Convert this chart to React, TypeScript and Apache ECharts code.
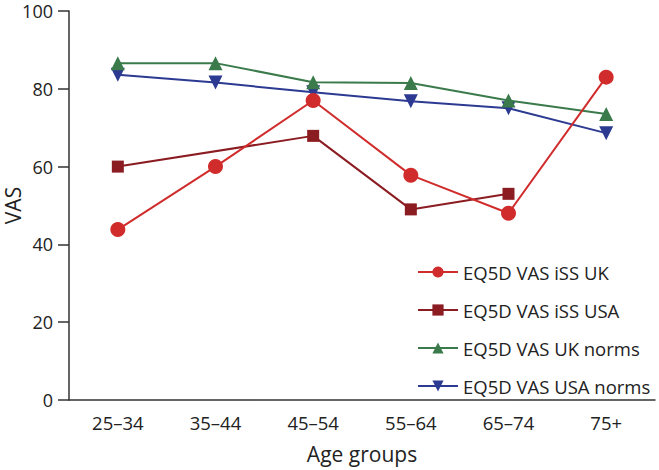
import React, { useEffect, useRef } from "react";
import * as echarts from "echarts";

const categories = ["25–34", "35–44", "45–54", "55–64", "65–74", "75+"];
const seriesNames = ["EQ5D VAS iSS UK", "EQ5D VAS iSS USA", "EQ5D VAS UK norms", "EQ5D VAS USA norms"];
const issUK = [43.8, 60, 77, 57.8, 48, 83];
const issUSA: (number | null)[] = [60, null, 67.9, 49, 53, null];
const ukNorms = [86.6, 86.6, 81.7, 81.5, 77, 73.5];
const usaNorms = [83.6, 81.6, 79.1, 76.8, 75, 68.6];
const yTicks = [0, 20, 40, 60, 80, 100];

const FONT = "Open Sans";
const TEXT = "#222";
const AXIS = "#333";

export default function App() {
  const ref = useRef<HTMLDivElement>(null);
  useEffect(() => {
    if (!ref.current) return;
    const chart = echarts.init(ref.current, undefined, { renderer: "svg" });
    const mk = (name: string, data: (number | null)[], color: string, symbol: string, size: number, z: number) => ({
      name,
      type: "line",
      data,
      connectNulls: true,
      symbol,
      symbolSize: size,
      z,
      lineStyle: { color, width: 2 },
      itemStyle: { color, borderWidth: 0 },
      emphasis: { disabled: true },
    });
    chart.setOption({
      animation: false,
      textStyle: { fontFamily: FONT },
      grid: { left: 69, right: 4, top: 11, bottom: 70, containLabel: false, outerBoundsMode: "none" },
      legend: {
        orient: "vertical",
        left: 412,
        top: 256,
        itemWidth: 40,
        itemHeight: 14,
        itemGap: 16,
        textStyle: { fontFamily: FONT, fontSize: 18.5, color: TEXT, lineHeight: 22 },
        data: seriesNames,
      },
      xAxis: {
        type: "category",
        data: categories,
        boundaryGap: true,
        name: "Age groups",
        nameLocation: "middle",
        nameGap: 43,
        nameMoveOverlap: false,
        nameTextStyle: { fontFamily: FONT, fontSize: 21, color: TEXT },
        axisLine: { lineStyle: { color: AXIS, width: 1.5 } },
        axisTick: { alignWithLabel: true, length: 11, lineStyle: { color: AXIS, width: 1.5 } },
        axisLabel: { fontFamily: FONT, fontSize: 18.5, color: TEXT, margin: 13 },
        splitLine: { show: false },
      },
      yAxis: {
        type: "value",
        min: yTicks[0],
        max: yTicks[yTicks.length - 1],
        interval: 20,
        name: "VAS",
        nameLocation: "middle",
        nameGap: 46,
        nameMoveOverlap: false,
        nameTextStyle: { fontFamily: FONT, fontSize: 21, lineHeight: 20, color: TEXT },
        axisLine: { show: true, lineStyle: { color: AXIS, width: 1.5 } },
        axisTick: { show: true, length: 11, lineStyle: { color: AXIS, width: 1.5 } },
        axisLabel: { fontFamily: FONT, fontSize: 18, lineHeight: 16, color: TEXT, margin: 16 },
        splitLine: { show: false },
      },
      series: [
        mk(seriesNames[0], issUK, "#d12c2c", "circle", 15, 4),
        mk(seriesNames[1], issUSA, "#8b1c22", "rect", 12, 3),
        mk(seriesNames[2], ukNorms, "#3a7a4b", "triangle", 14, 2),
        mk(seriesNames[3], usaNorms, "#2c3a91", "path://M0,0 L10,0 L5,9 Z", 14, 1),
      ],
    });
    return () => chart.dispose();
  }, []);
  return <div ref={ref} style={{ width: 659, height: 470, position: "absolute", left: 0, top: 0 }} />;
}
